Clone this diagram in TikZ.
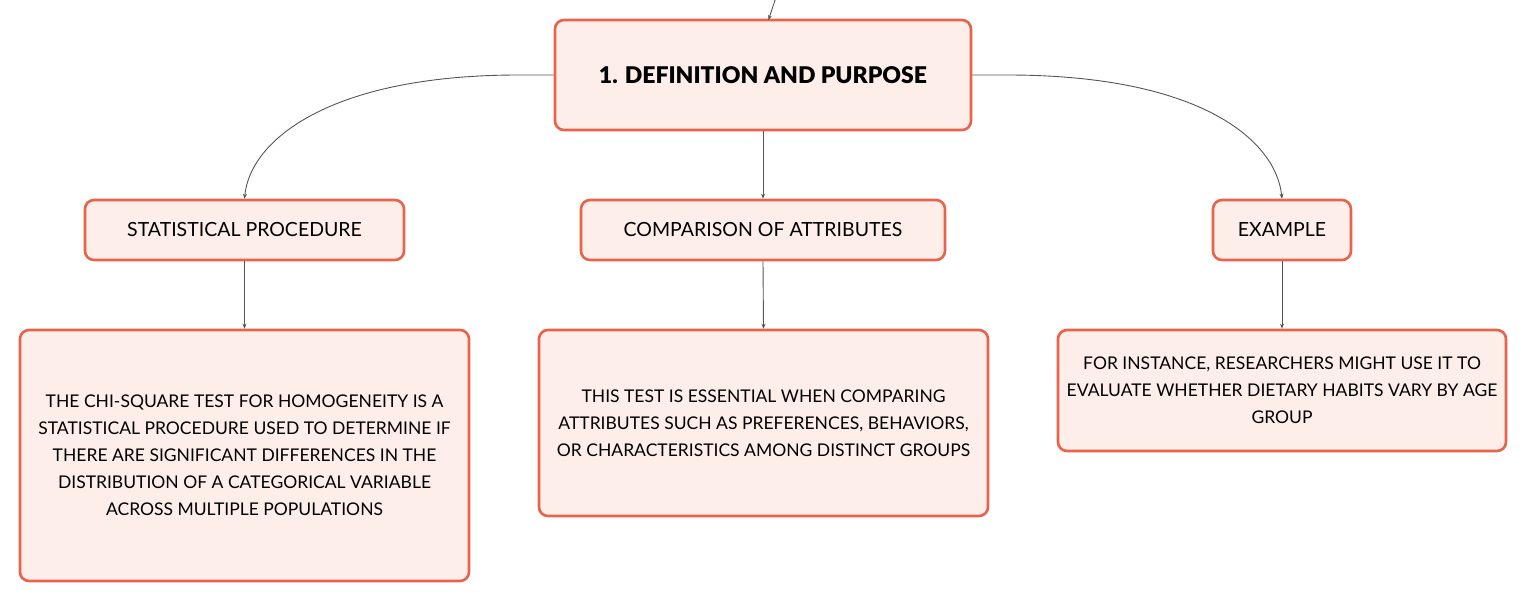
\documentclass[tikz,border=0pt]{standalone}
\usepackage{fontspec}
\setmainfont{Lato}[BoldFont={Lato Black}]
\usetikzlibrary{arrows.meta}
\definecolor{boxline}{HTML}{E8634A}
\definecolor{boxfill}{HTML}{FDEEEA}
\definecolor{conn}{HTML}{555555}
\tikzset{
  box/.style={draw=boxline, fill=boxfill, line width=2.6pt, rounded corners=9pt, inner sep=0pt, align=center},
  conn/.style={draw=conn, line width=0.9pt, -{Stealth[length=5pt,width=4pt]}},
}
\begin{document}
\begin{tikzpicture}[x=1pt,y=-1pt]
\useasboundingbox (0,0) rectangle (1527,602);
\node[box, minimum width=416pt, minimum height=110pt, font=\fontsize{23}{27}\selectfont\bfseries] (top) at (763,75) {1. DEFINITION AND PURPOSE};
\node[box, minimum width=319pt, minimum height=60pt, font=\fontsize{19.5}{23}\selectfont] (sp) at (244.5,230) {STATISTICAL PROCEDURE};
\node[box, minimum width=364pt, minimum height=60pt, font=\fontsize{19.5}{23}\selectfont] (ca) at (763,230) {COMPARISON OF ATTRIBUTES};
\node[box, minimum width=138pt, minimum height=60pt, font=\fontsize{19.5}{23}\selectfont] (ex) at (1282,230) {EXAMPLE};
\node[box, minimum width=449pt, minimum height=251pt, font=\fontsize{17.5}{27}\selectfont] (b1) at (244.5,455.5) {THE CHI-SQUARE TEST FOR HOMOGENEITY IS A\\STATISTICAL PROCEDURE USED TO DETERMINE IF\\THERE ARE SIGNIFICANT DIFFERENCES IN THE\\DISTRIBUTION OF A CATEGORICAL VARIABLE\\ACROSS MULTIPLE POPULATIONS};
\node[box, minimum width=449pt, minimum height=186pt, font=\fontsize{17.5}{27}\selectfont] (b2) at (763.5,423) {THIS TEST IS ESSENTIAL WHEN COMPARING\\ATTRIBUTES SUCH AS PREFERENCES, BEHAVIORS,\\OR CHARACTERISTICS AMONG DISTINCT GROUPS};
\node[box, minimum width=448pt, minimum height=121pt, font=\fontsize{17.5}{27}\selectfont] (b3) at (1282,390.5) {FOR INSTANCE, RESEARCHERS MIGHT USE IT TO\\EVALUATE WHETHER DIETARY HABITS VARY BY AGE\\GROUP};
\coordinate (in) at (777,-6);
\coordinate (topin) at (768.5,20);
\draw[conn] (in) -- (topin);
\draw[conn] (top.west) -- ++(-35,0) .. controls (330,75) and (250,140) .. (sp.north);
\draw[conn] (top.east) -- ++(35,0) .. controls (1200,75) and (1276,140) .. (ex.north);
\draw[conn] (top.south) -- (ca.north);
\draw[conn] (sp.south) -- (b1.north);
\draw[conn] (ca.south) -- (b2.north);
\draw[conn] (ex.south) -- (b3.north);
\end{tikzpicture}
\end{document}
